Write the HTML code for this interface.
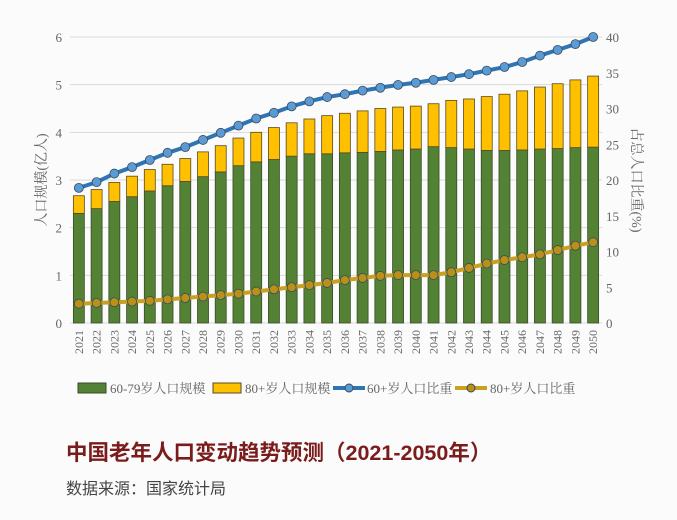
<!DOCTYPE html>
<html><head><meta charset="utf-8"><style>
body{margin:0;width:677px;height:520px;overflow:hidden;background:#fbfbfb;}
svg{position:absolute;left:0;top:0}
.t{position:absolute;left:66px;font-family:"Liberation Sans","Noto Sans CJK SC",sans-serif;white-space:nowrap}
</style></head><body>
<svg id="c" width="677" height="520"></svg>
<div class="t" style="top:436px;font-size:21.5px;font-weight:bold;color:#7b1c1c">中国老年人口变动趋势预测（2021-2050年）</div>
<div class="t" style="top:475px;font-size:16px;color:#444">数据来源：国家统计局</div>
<script>
const years=[2021,2022,2023,2024,2025,2026,2027,2028,2029,2030,2031,2032,2033,2034,2035,2036,2037,2038,2039,2040,2041,2042,2043,2044,2045,2046,2047,2048,2049,2050];
const pop6079=[2.30,2.40,2.55,2.65,2.77,2.88,2.97,3.07,3.17,3.30,3.38,3.43,3.50,3.55,3.55,3.57,3.58,3.60,3.63,3.65,3.70,3.68,3.65,3.62,3.62,3.63,3.65,3.66,3.68,3.69];
const popTotal=[2.67,2.80,2.95,3.08,3.22,3.33,3.45,3.59,3.72,3.88,4.00,4.10,4.20,4.28,4.35,4.40,4.45,4.50,4.53,4.55,4.60,4.67,4.70,4.75,4.80,4.87,4.95,5.02,5.10,5.18];
const share60=[18.9,19.7,20.9,21.8,22.8,23.8,24.6,25.6,26.6,27.6,28.6,29.4,30.3,31.0,31.6,32.0,32.5,32.9,33.3,33.6,34.0,34.4,34.8,35.3,35.8,36.5,37.4,38.2,39.0,40.0];
const share80=[2.7,2.8,2.9,3.0,3.1,3.3,3.5,3.7,3.9,4.1,4.4,4.7,5.0,5.3,5.6,6.0,6.3,6.6,6.7,6.7,6.7,7.1,7.7,8.3,8.8,9.2,9.6,10.2,10.8,11.3];
const leftTicks=[0,1,2,3,4,5,6];
const rightTicks=[0,5,10,15,20,25,30,35,40];
const svg=document.getElementById('c');const NS='http://www.w3.org/2000/svg';
const X0=70,X1=602,Y0=323,Y1=37;
const band=(X1-X0)/years.length;
const xc=i=>X0+band*(i+0.5);
const yl=v=>Y0-(Y0-Y1)*v/6;
const yr=v=>Y0-(Y0-Y1)*v/40;
function mk(t,a,p){const e=document.createElementNS(NS,t);for(const k in a)e.setAttribute(k,a[k]);(p||svg).appendChild(e);return e;}
const serif='"Liberation Serif","Noto Serif CJK SC",serif';
leftTicks.forEach(v=>{
 const g=mk('line',{x1:X0,x2:X1,y1:yl(v),y2:yl(v),stroke:'#d9d9d9','stroke-width':1});
 
 
 const t=mk('text',{x:62,y:yl(v)+5,'text-anchor':'end','font-size':13,fill:'#666','font-family':serif});t.textContent=v;
 
 
});
rightTicks.forEach(v=>{
 const t=mk('text',{x:606,y:yr(v)+5,'font-size':13,fill:'#666','font-family':serif});t.textContent=v;
 
 
});
let t=mk('text',{transform:'translate(46,180) rotate(-90)','text-anchor':'middle','font-size':14,fill:'#666','font-family':serif});t.textContent='人口规模(亿人)';


t=mk('text',{transform:'translate(632,180) rotate(90)','text-anchor':'middle','font-size':14,fill:'#666','font-family':serif});t.textContent='占总人口比重(%)';


const bw=11;
years.forEach((y,i)=>{
 const g=mk('rect',{x:xc(i)-bw/2,y:yl(pop6079[i]),width:bw,height:Y0-yl(pop6079[i]),fill:'#548235',stroke:'#3a4a2a','stroke-width':0.8});
 
 
 const o=mk('rect',{x:xc(i)-bw/2,y:yl(popTotal[i]),width:bw,height:yl(pop6079[i])-yl(popTotal[i]),fill:'#ffc000',stroke:'#5a4a20','stroke-width':0.8});
 
 
 const l=mk('text',{transform:`translate(${xc(i)+4},${330}) rotate(-90)`,'text-anchor':'end','font-size':12,fill:'#666','font-family':serif});l.textContent=y;
 
 
});
function line(arr,col,fillc,name){
 const p=mk('polyline',{points:years.map((y,i)=>xc(i)+','+yr(arr[i])).join(' '),fill:'none',stroke:col,'stroke-width':4,'stroke-linejoin':'round'});
 
 
 years.forEach((y,i)=>{const c=mk('circle',{cx:xc(i),cy:yr(arr[i]),r:4.5,fill:fillc,stroke:'#3a4a5a','stroke-width':0.8});
 
 });
}
line(share80,'#c9a020','#b8901a','share-80-plus');
line(share60,'#2e75b6','#5b9bd5','share-60-plus');
const LY=388;const lg=mk('g',{});


function ltext(x,s){const e=mk('text',{x:x,y:LY+5,'font-size':13,fill:'#666','font-family':serif},lg);e.textContent=s;return e;}
mk('rect',{x:78,y:LY-5,width:28,height:10,fill:'#548235',stroke:'#3a4a2a'},lg);ltext(110,'60-79岁人口规模');
mk('rect',{x:213,y:LY-5,width:28,height:10,fill:'#ffc000',stroke:'#5a4a20'},lg);ltext(245,'80+岁人口规模');
mk('line',{x1:333,x2:365,y1:LY,y2:LY,stroke:'#2e75b6','stroke-width':4},lg);mk('circle',{cx:349,cy:LY,r:4,fill:'#5b9bd5',stroke:'#3a4a5a'},lg);ltext(367,'60+岁人口比重');
mk('line',{x1:455,x2:487,y1:LY,y2:LY,stroke:'#c9a020','stroke-width':4},lg);mk('circle',{cx:471,cy:LY,r:4,fill:'#b8901a',stroke:'#3a4a5a'},lg);ltext(490,'80+岁人口比重');
</script>
</body></html>
